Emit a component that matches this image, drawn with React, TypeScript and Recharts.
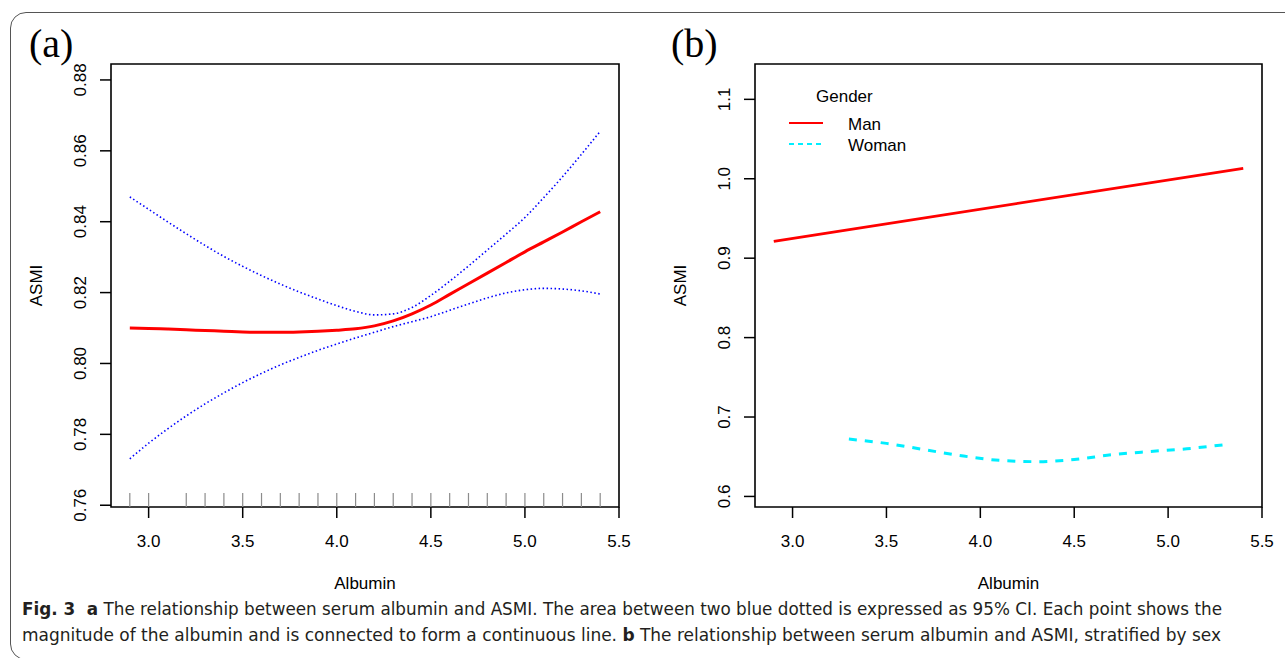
import {
  ComposedChart,
  Legend,
  Line,
  LineChart,
  ReferenceArea,
  Scatter,
  XAxis,
  YAxis,
} from "recharts"

// panel (a): smooth fit of ASMI on albumin with 95% CI
const albumin = [2.9, 3.0, 3.1, 3.2, 3.3, 3.4, 3.5, 3.6, 3.7, 3.8, 3.9, 4.0, 4.1, 4.2, 4.3, 4.4, 4.5, 4.6, 4.7, 4.8, 4.9, 5.0, 5.1, 5.2, 5.3, 5.4]
const fitA = [0.81, 0.8099, 0.8097, 0.8095, 0.8093, 0.8091, 0.8089, 0.8088, 0.8088, 0.8089, 0.8091, 0.8094, 0.8098, 0.8106, 0.812, 0.814, 0.8165, 0.8195, 0.8225, 0.8255, 0.8285, 0.8315, 0.8343, 0.8371, 0.84, 0.8428]
const upperA = [0.847, 0.8435, 0.84, 0.8366, 0.8333, 0.8302, 0.8274, 0.8248, 0.8224, 0.8202, 0.8182, 0.8163, 0.8147, 0.8137, 0.814, 0.8158, 0.8192, 0.8232, 0.8275, 0.832, 0.8365, 0.8412, 0.8468, 0.8527, 0.859, 0.8655]
const lowerA = [0.7731, 0.7775, 0.7815, 0.7852, 0.7886, 0.7917, 0.7946, 0.7972, 0.7996, 0.8017, 0.8037, 0.8055, 0.8072, 0.8088, 0.8104, 0.8118, 0.8132, 0.815, 0.8168, 0.8185, 0.8199, 0.8208, 0.8212, 0.821, 0.8205, 0.8196]
const rugA = [2.9, 3.0, 3.2, 3.3, 3.4, 3.5, 3.6, 3.7, 3.8, 3.9, 4.0, 4.1, 4.2, 4.3, 4.4, 4.5, 4.6, 4.7, 4.8, 4.9, 5.0, 5.1, 5.2, 5.3, 5.4]

// panel (b): stratified by gender
const manX = [2.9, 5.4]
const manY = [0.9212, 1.0131]
const womanX = [3.3, 3.5, 3.7, 3.9, 4.1, 4.3, 4.5, 4.7, 4.9, 5.1, 5.3]
const womanY = [0.6722, 0.6668, 0.659, 0.6512, 0.6455, 0.6438, 0.6465, 0.6525, 0.6565, 0.66, 0.6652]

const xDomain = [2.8, 5.5]
const xTicks = [3.0, 3.5, 4.0, 4.5, 5.0, 5.5]
const yDomainA = [0.7595, 0.8845]
const yTicksA = [0.76, 0.78, 0.8, 0.82, 0.84, 0.86, 0.88]
const yDomainB = [0.5867, 1.1445]
const yTicksB = [0.6, 0.7, 0.8, 0.9, 1.0, 1.1]

const rowsA = albumin.map((x, i) => ({ x, fit: fitA[i], hi: upperA[i], lo: lowerA[i] }))
const rugRows = rugA.map((x) => ({ x, y: yDomainA[0] }))
const manRows = manX.map((x, i) => ({ x, y: manY[i] }))
const womanRows = womanX.map((x, i) => ({ x, y: womanY[i] }))

const font = "'Liberation Sans', Arial, sans-serif"
const serif = "'Liberation Serif', 'Times New Roman', serif"
const captionFont = "'Liberation Sans Narrow', 'DejaVu Sans Condensed', sans-serif"

function RotTick({ x, y, payload, digits }: any) {
  return (
    <text x={x} y={y} transform={`rotate(-90 ${x} ${y})`} textAnchor="middle" fontSize={17} fill="#000">
      {Number(payload.value).toFixed(digits)}
    </text>
  )
}

function YTitle({ viewBox, text }: any) {
  const x = viewBox.x + viewBox.width - 69
  const y = viewBox.y + viewBox.height / 2
  return (
    <text x={x} y={y} transform={`rotate(-90 ${x} ${y})`} textAnchor="middle" fontSize={17} fill="#000">
      {text}
    </text>
  )
}

function XTitle({ viewBox, text }: any) {
  return (
    <text x={viewBox.x + viewBox.width / 2} y={viewBox.y + 82} textAnchor="middle" fontSize={17} fill="#000">
      {text}
    </text>
  )
}

function RugMark(p: any) {
  return <line x1={p.cx} x2={p.cx} y1={p.cy} y2={p.cy - 14} stroke="#8c8c8c" strokeWidth={1.2} />
}

function GenderLegend({ payload }: any) {
  return (
    <svg width={150} height={80} style={{ fontFamily: font }}>
      <text x={36} y={22} fontSize={17} fill="#000">Gender</text>
      {(payload || []).map((p: any, i: number) => (
        <g key={p.value}>
          <line
            x1={9}
            x2={43}
            y1={43 + i * 21}
            y2={43 + i * 21}
            stroke={p.color}
            strokeWidth={2}
            strokeDasharray={p.payload?.strokeDasharray ? "5 4" : undefined}
          />
          <text x={68} y={50 + i * 21} fontSize={17} fill="#000">{p.value}</text>
        </g>
      ))}
    </svg>
  )
}

const xAxisProps = {
  type: "number" as const,
  dataKey: "x",
  domain: xDomain,
  ticks: xTicks,
  allowDataOverflow: true,
  axisLine: false,
  tickSize: 11,
  tickMargin: 17,
  height: 85,
  tickLine: { stroke: "#000", strokeWidth: 1.5 },
  tick: { fill: "#000", fontSize: 17 },
  tickFormatter: (v: number) => v.toFixed(1),
}

export default function App() {
  return (
    <div style={{ position: "absolute", left: 0, top: 0, width: 1285, height: 658, overflow: "hidden", background: "#fff", fontFamily: font }}>
      <div
        style={{
          position: "absolute",
          left: 10,
          top: 12,
          width: 1300,
          height: 648,
          border: "1.5px solid #555",
          borderRadius: 16,
          boxSizing: "border-box",
        }}
      />
      <svg width={1285} height={658} style={{ position: "absolute", left: 0, top: 0 }}>
        <text x={29} y={57} fontSize={40} fontFamily={serif} fill="#000">(a)</text>
        <text x={671} y={57} fontSize={40} fontFamily={serif} fill="#000">(b)</text>
        <text x={22} y={615} fontSize={18} fontFamily={captionFont} fill="#231f20" textLength={1200} lengthAdjust="spacingAndGlyphs">
          <tspan fontWeight={700}>{"Fig. 3\u00a0 a"}</tspan> The relationship between serum albumin and ASMI. The area between two blue dotted is expressed as 95% CI. Each point shows the
        </text>
        <text x={22} y={641} fontSize={18} fontFamily={captionFont} fill="#231f20" textLength={1199} lengthAdjust="spacingAndGlyphs">
          magnitude of the albumin and is connected to form a continuous line. <tspan fontWeight={700}>b</tspan> The relationship between serum albumin and ASMI, stratified by sex
        </text>
      </svg>

      <div style={{ position: "absolute", left: 0, top: 0 }}>
        <ComposedChart width={640} height={600} data={rowsA} margin={{ top: 64, right: 21, bottom: 8, left: 21 }}>
          <XAxis {...xAxisProps} label={<XTitle text="Albumin" />} />
          <YAxis
            type="number"
            domain={yDomainA}
            ticks={yTicksA}
            allowDataOverflow
            axisLine={false}
            width={90}
            tickSize={11}
            tickMargin={14}
            tickLine={{ stroke: "#000", strokeWidth: 1.5 }}
            tick={<RotTick digits={2} />}
            label={<YTitle text="ASMI" />}
          />
          <Scatter data={rugRows} dataKey="y" shape={RugMark} isAnimationActive={false} />
          <Line type="monotone" dataKey="hi" stroke="#0000ff" strokeWidth={1.6} strokeDasharray="1.5 2.5" dot={false} activeDot={false} isAnimationActive={false} />
          <Line type="monotone" dataKey="lo" stroke="#0000ff" strokeWidth={1.6} strokeDasharray="1.5 2.5" dot={false} activeDot={false} isAnimationActive={false} />
          <Line type="monotone" dataKey="fit" stroke="#ff0000" strokeWidth={3} dot={false} activeDot={false} isAnimationActive={false} />
          <ReferenceArea x1={xDomain[0]} x2={xDomain[1]} y1={yDomainA[0]} y2={yDomainA[1]} fill="none" fillOpacity={0} stroke="#000" strokeWidth={1.6} ifOverflow="visible" />
        </ComposedChart>
      </div>

      <div style={{ position: "absolute", left: 640, top: 0 }}>
        <LineChart width={645} height={600} margin={{ top: 64, right: 23, bottom: 8, left: 25 }}>
          <XAxis {...xAxisProps} label={<XTitle text="Albumin" />} />
          <YAxis
            type="number"
            domain={yDomainB}
            ticks={yTicksB}
            allowDataOverflow
            axisLine={false}
            width={90}
            tickSize={11}
            tickMargin={14}
            tickLine={{ stroke: "#000", strokeWidth: 1.5 }}
            tick={<RotTick digits={1} />}
            label={<YTitle text="ASMI" />}
          />
          <Legend
            layout="vertical"
            align="center"
            verticalAlign="middle"
            content={<GenderLegend />}
            wrapperStyle={{ left: 140, top: 80, width: 150, height: 80 }}
          />
          <Line data={manRows} name="Man" dataKey="y" stroke="#ff0000" strokeWidth={2.8} dot={false} activeDot={false} isAnimationActive={false} />
          <Line data={womanRows} name="Woman" type="monotone" dataKey="y" stroke="#00eeff" strokeWidth={3} strokeDasharray="8 8" dot={false} activeDot={false} isAnimationActive={false} />
          <ReferenceArea x1={xDomain[0]} x2={xDomain[1]} y1={yDomainB[0]} y2={yDomainB[1]} fill="none" fillOpacity={0} stroke="#000" strokeWidth={1.6} ifOverflow="visible" />
        </LineChart>
      </div>
    </div>
  )
}
